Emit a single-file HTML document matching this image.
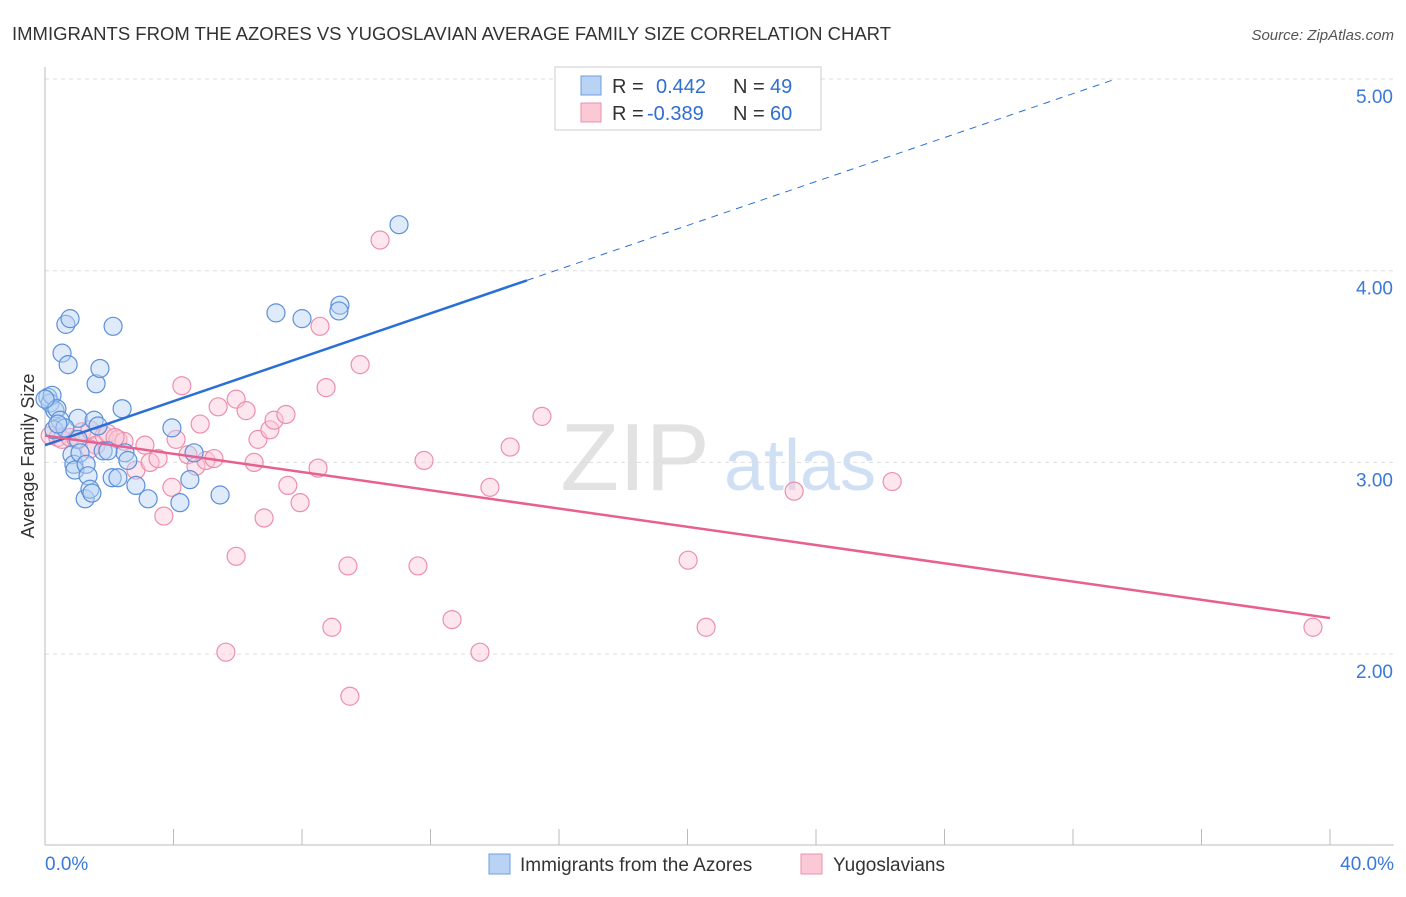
<!DOCTYPE html>
<html><head><meta charset="utf-8"><style>
body{margin:0;background:#fff;font-family:"Liberation Sans",sans-serif}
svg text{font-family:"Liberation Sans",sans-serif}
</style></head><body>
<svg width="1406" height="892" xmlns="http://www.w3.org/2000/svg" id="chart">
<text x="12" y="40" font-size="18.5" fill="#333" textLength="879" lengthAdjust="spacingAndGlyphs">IMMIGRANTS FROM THE AZORES VS YUGOSLAVIAN AVERAGE FAMILY SIZE CORRELATION CHART</text>
<text x="1394" y="40" font-size="15" fill="#555" font-style="italic" text-anchor="end">Source: ZipAtlas.com</text>
<text transform="translate(34,456) rotate(-90)" font-size="18" fill="#333" text-anchor="middle">Average Family Size</text>
<g><text x="635" y="490" font-size="96" fill="#e2e2e2" font-family="Liberation Serif" text-anchor="middle">ZIP</text><text x="800" y="490" font-size="72" fill="#d0e0f4" text-anchor="middle">atlas</text></g>
<g id="grid"></g><g id="axes"></g><g id="marks"></g>
<g>
<rect x="555" y="67" width="266" height="63" fill="#fff" stroke="#ccc"/>
<rect x="581" y="76" width="20" height="19" fill="#b9d3f5" stroke="#6f9ee0"/>
<rect x="581" y="103" width="20" height="19" fill="#fbc8d6" stroke="#ec8fae"/>
<text x="612" y="93" font-size="20" fill="#333">R =</text>
<text x="656" y="93" font-size="20" fill="#2f6fd0">0.442</text>
<text x="733" y="93" font-size="20" fill="#333">N =</text>
<text x="770" y="93" font-size="20" fill="#2f6fd0">49</text>
<text x="612" y="120" font-size="20" fill="#333">R =</text>
<text x="647" y="120" font-size="20" fill="#2f6fd0">-0.389</text>
<text x="733" y="120" font-size="20" fill="#333">N =</text>
<text x="770" y="120" font-size="20" fill="#2f6fd0">60</text>
</g>
<g>
<rect x="489" y="854" width="21" height="20" fill="#b9d3f5" stroke="#6f9ee0"/>
<text x="520" y="871" font-size="19" fill="#333">Immigrants from the Azores</text>
<rect x="801" y="854" width="21" height="20" fill="#fbc8d6" stroke="#ec8fae"/>
<text x="833" y="871" font-size="19" fill="#333">Yugoslavians</text>
</g>
</svg>
<script>
const blueX=[0.09,0.16,0.22,0.31,0.37,0.47,0.53,0.65,0.72,0.78,0.84,0.90,0.93,1.03,1.03,1.09,1.25,1.28,1.34,1.40,1.46,1.53,1.59,1.65,1.71,1.81,2.09,2.12,2.27,2.40,2.49,2.58,2.83,3.21,3.95,4.20,4.51,4.64,5.45,7.19,8.00,9.18,9.15,11.02,0.28,0.62,0.40,0.0,1.96];
const blueY=[3.34,3.31,3.35,3.27,3.28,3.22,3.57,3.72,3.51,3.75,3.04,2.99,2.96,3.12,3.23,3.05,2.81,2.99,2.93,2.86,2.84,3.22,3.41,3.19,3.49,3.06,2.92,3.71,2.92,3.28,3.05,3.01,2.88,2.81,3.18,2.79,2.91,3.05,2.83,3.78,3.75,3.82,3.79,4.24,3.17,3.18,3.20,3.33,3.06];
const pinkX=[0.16,0.40,0.53,0.78,0.97,1.15,1.40,1.59,1.84,1.96,2.27,2.46,2.83,3.11,3.27,3.52,3.70,3.95,4.08,4.26,4.45,4.70,4.83,5.01,5.26,5.39,5.63,5.95,5.95,6.26,6.51,6.63,6.82,7.00,7.13,7.50,7.56,7.94,8.50,8.56,8.75,8.93,9.43,9.49,9.81,10.43,11.61,11.80,12.67,13.54,13.85,14.48,15.47,20.02,20.58,23.32,26.37,39.47,2.18,1.40];
const pinkY=[3.14,3.13,3.12,3.13,3.12,3.16,3.17,3.09,3.14,3.15,3.12,3.11,2.96,3.09,3.00,3.02,2.72,2.87,3.12,3.40,3.04,2.98,3.20,3.01,3.02,3.29,2.01,2.51,3.33,3.27,3.00,3.12,2.71,3.17,3.22,3.25,2.88,2.79,2.97,3.71,3.39,2.14,2.46,1.78,3.51,4.16,2.46,3.01,2.18,2.01,2.87,3.08,3.24,2.49,2.14,2.85,2.90,2.14,3.13,3.07];
const yTicks=[2,3,4,5];
const yTickLabels=["2.00","3.00","4.00","5.00"];
const xTicks=[0,4,8,12,16,20,24,28,32,36,40];
const blueFit=[3.09,0.0573]; // intercept, slope
const pinkFit=[3.14,-0.0238];
const sx=v=>45+v*(1285/40);
const sy=v=>79+(5-v)*191.7;
const NS="http://www.w3.org/2000/svg";
function mk(tag,attrs,parent){const e=document.createElementNS(NS,tag);for(const k in attrs)e.setAttribute(k,attrs[k]);document.getElementById(parent).appendChild(e);return e;}
yTicks.forEach((t,i)=>{
 const l=mk('line',{x1:45,x2:1394,y1:sy(t),y2:sy(t),stroke:'#ddd','stroke-dasharray':'4,4'},'grid');
 
 
 const tx=mk('text',{x:1393,y:sy(t)+24,'font-size':19,fill:'#3b78d8','text-anchor':'end'},'grid');
 tx.textContent=yTickLabels[i];
 
 
});
let a=mk('line',{x1:45,x2:45,y1:67,y2:845,stroke:'#bbb'},'axes');


a=mk('line',{x1:45,x2:1394,y1:845,y2:845,stroke:'#bbb'},'axes');


xTicks.forEach(t=>{const l=mk('line',{x1:sx(t),x2:sx(t),y1:829,y2:845,stroke:'#bbb'},'axes');
 
 });
let t=mk('text',{x:45,y:870,'font-size':19,fill:'#3b78d8'},'axes');t.textContent='0.0%';


t=mk('text',{x:1394,y:870,'font-size':19,fill:'#3b78d8','text-anchor':'end'},'axes');t.textContent='40.0%';


function pts(X,Y,fill,stroke,name){X.forEach((x,i)=>{const c=mk('circle',{cx:sx(x),cy:sy(Y[i]),r:9,fill:fill,'fill-opacity':0.45,stroke:stroke,'stroke-width':1.2},'marks');
 
 });}
pts(pinkX,pinkY,'#fbc8d6','#ec8fae','point-yugoslavians');
pts(blueX,blueY,'#b9d3f5','#5b90da','point-azores');
const bEnd=15, bMax=(5-blueFit[0])/blueFit[1];
let ln=mk('line',{x1:sx(0),y1:sy(blueFit[0]),x2:sx(bEnd),y2:sy(blueFit[0]+blueFit[1]*bEnd),stroke:'#2a6fd6','stroke-width':2.5},'marks');


ln=mk('line',{x1:sx(bEnd),y1:sy(blueFit[0]+blueFit[1]*bEnd),x2:sx(bMax),y2:sy(5),stroke:'#2a6fd6','stroke-width':1,'stroke-dasharray':'7,6'},'marks');


ln=mk('line',{x1:sx(0),y1:sy(pinkFit[0]),x2:sx(40),y2:sy(pinkFit[0]+pinkFit[1]*40),stroke:'#e8608f','stroke-width':2.5},'marks');


</script>
</body></html>
